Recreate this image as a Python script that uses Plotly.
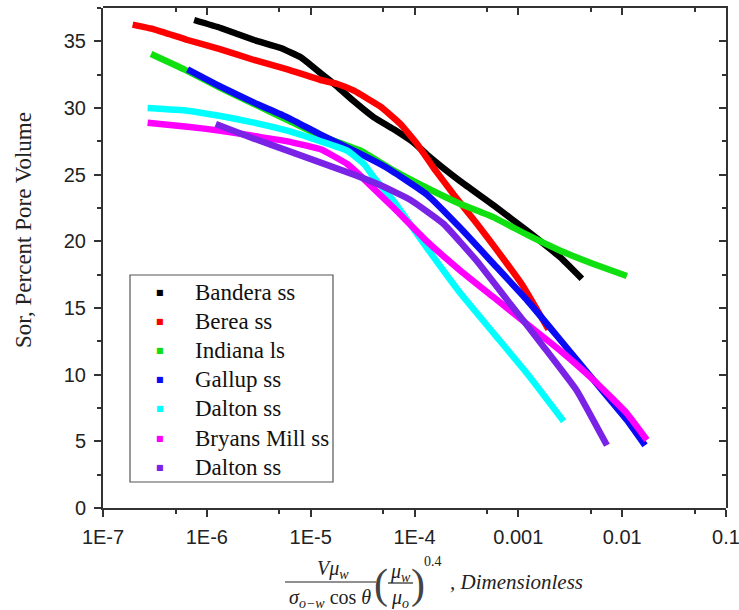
import plotly.graph_objects as go

# Residual oil saturation vs. capillary number for several rocks
bandera_x = [7.55e-7, 1.36e-6, 2.85e-6, 5.15e-6, 8.02e-6, 1.25e-5, 1.81e-5, 2.61e-5,
             4.06e-5, 6.32e-5, 9.84e-5, 1.32e-4, 2.77e-4, 5.79e-4, 1.21e-3, 2.54e-3, 4.09e-3]
bandera_y = [36.6, 36.0, 35.1, 34.5, 33.8, 32.6, 31.6, 30.5,
             29.3, 28.4, 27.4, 26.5, 24.5, 22.7, 20.8, 18.8, 17.2]

berea_x = [1.93e-7, 3.11e-7, 6.52e-7, 1.36e-6, 2.85e-6, 5.97e-6, 1.25e-5, 1.81e-5, 2.61e-5,
           4.71e-5, 7.33e-5, 1.06e-4, 1.53e-4, 2.39e-4, 4.01e-4, 6.71e-4, 1.12e-3, 1.95e-3]
berea_y = [36.25, 35.9, 35.1, 34.4, 33.6, 32.9, 32.1, 31.8, 31.3,
           30.1, 28.8, 27.3, 25.5, 23.5, 21.3, 19.0, 16.6, 13.4]

indiana_x = [2.90e-7, 6.05e-7, 1.36e-6, 2.85e-6, 5.97e-6, 1.25e-5, 3.03e-5, 6.32e-5,
             1.32e-4, 2.77e-4, 5.79e-4, 1.21e-3, 2.54e-3, 5.30e-3, 1.11e-2]
indiana_y = [34.05, 32.9, 31.5, 30.3, 29.1, 27.9, 26.8, 25.3,
             24.0, 22.8, 21.8, 20.5, 19.3, 18.3, 17.4]

gallup_x = [6.52e-7, 1.36e-6, 2.85e-6, 5.97e-6, 1.25e-5, 2.61e-5, 5.46e-5, 1.32e-4,
            2.77e-4, 5.79e-4, 1.21e-3, 2.54e-3, 5.30e-3, 1.11e-2, 1.66e-2]
gallup_y = [32.9, 31.6, 30.4, 29.3, 28.0, 26.8, 25.5, 23.5,
            21.0, 18.3, 15.6, 12.6, 9.6, 6.6, 4.7]

dalton1_x = [2.69e-7, 6.52e-7, 1.36e-6, 2.85e-6, 5.97e-6, 1.25e-5, 2.25e-5, 3.26e-5,
             4.06e-5, 6.32e-5, 1.32e-4, 2.77e-4, 5.79e-4, 1.21e-3, 2.73e-3]
dalton1_y = [30.0, 29.8, 29.4, 28.9, 28.3, 27.5, 26.8, 25.8,
             24.8, 23.0, 19.5, 16.1, 13.1, 10.1, 6.5]

bryans_x = [2.69e-7, 6.52e-7, 1.36e-6, 2.85e-6, 5.97e-6, 1.25e-5, 2.25e-5, 3.03e-5,
            6.32e-5, 1.32e-4, 2.77e-4, 5.79e-4, 1.21e-3, 2.54e-3, 5.30e-3, 1.11e-2, 1.73e-2]
bryans_y = [28.9, 28.6, 28.3, 27.9, 27.5, 26.9, 25.8, 24.9,
            22.5, 20.0, 17.8, 15.8, 13.8, 11.8, 9.6, 7.1, 5.1]

dalton2_x = [1.22e-6, 2.85e-6, 5.97e-6, 1.25e-5, 2.61e-5, 4.71e-5, 9.16e-5, 1.91e-4,
             4.01e-4, 8.38e-4, 1.75e-3, 3.66e-3, 7.13e-3]
dalton2_y = [28.8, 27.7, 26.8, 25.9, 25.0, 24.2, 23.1, 21.3,
             18.5, 15.3, 12.1, 8.8, 4.7]

series_names = ["Bandera ss", "Berea ss", "Indiana ls", "Gallup ss",
                "Dalton ss", "Bryans Mill ss", "Dalton ss"]
series_x = [bandera_x, berea_x, indiana_x, gallup_x, dalton1_x, bryans_x, dalton2_x]
series_y = [bandera_y, berea_y, indiana_y, gallup_y, dalton1_y, bryans_y, dalton2_y]
series_colors = ["#000000", "#ff0000", "#10e010", "#0a0af5", "#00ffff", "#ff00ff", "#7a22e6"]

x_tickvals = [1e-7, 1e-6, 1e-5, 1e-4, 1e-3, 1e-2, 1e-1]
x_ticktext = ["1E-7", "1E-6", "1E-5", "1E-4", "0.001", "0.01", "0.1"]
x_minorvals = [5e-7, 5e-6, 5e-5, 5e-4, 5e-3, 5e-2]
y_tickvals = [0, 5, 10, 15, 20, 25, 30, 35]

fig = go.Figure()

for name, xs, ys, c in zip(series_names, series_x, series_y, series_colors):
    fig.add_trace(go.Scatter(
        x=xs, y=ys, mode="lines", name=name,
        line=dict(color=c, width=6.5, shape="spline", smoothing=0.35),
        showlegend=False, hoverinfo="skip"))

# second subplot on the same area: carries the top / right frame with inward ticks
fig.add_trace(go.Scatter(x=[], y=[], xaxis="x2", yaxis="y2",
                         showlegend=False, hoverinfo="skip"))

axis_col = "#333333"
tick_font = dict(family="Liberation Sans, Arial, sans-serif", size=20, color="#222222")
common = dict(showgrid=False, zeroline=False, showline=True, linewidth=2,
              linecolor=axis_col, tickwidth=1.5, tickcolor=axis_col, ticklen=7,
              automargin=False)

fig.update_layout(
    template="none",
    width=739, height=610,
    margin=dict(l=103, r=13, t=8, b=102, autoexpand=False),
    paper_bgcolor="white", plot_bgcolor="rgba(0,0,0,0)",
    showlegend=False,
    xaxis=dict(
        type="log", range=[-7, -1], domain=[0, 1], anchor="y",
        tickvals=x_tickvals, ticktext=x_ticktext, ticks="outside",
        minor=dict(tickvals=x_minorvals, ticks="outside", ticklen=4,
                   tickwidth=1.5, tickcolor=axis_col),
        tickfont=tick_font, ticklabelstandoff=3, ticklabeloverflow="allow",
        **common),
    yaxis=dict(
        range=[0, 37.5], domain=[0, 1], anchor="x",
        tickvals=y_tickvals, ticks="outside",
        minor=dict(dtick=2.5, tick0=0, ticks="outside", ticklen=4,
                   tickwidth=1.5, tickcolor=axis_col),
        tickfont=tick_font, ticklabelstandoff=4,
        **common),
    xaxis2=dict(
        type="log", range=[-7, -1], domain=[0, 1], anchor="y2", side="top",
        tickvals=x_tickvals, showticklabels=False, ticks="inside",
        minor=dict(tickvals=x_minorvals, ticks="inside", ticklen=4,
                   tickwidth=1.5, tickcolor=axis_col),
        **common),
    yaxis2=dict(
        range=[0, 37.5], domain=[0, 1], anchor="x2", side="right",
        tickvals=y_tickvals, showticklabels=False, ticks="inside",
        minor=dict(dtick=2.5, tick0=0, ticks="inside", ticklen=4,
                   tickwidth=1.5, tickcolor=axis_col),
        **common),
)

serif = "Liberation Serif, Times New Roman, serif"
text_col = "#222222"
math_font = dict(family=serif, size=20, color=text_col)


def px_x(px):
    return (px - 103) / 623


def px_y(py):
    return (508 - py) / 500


annots = [
    # y-axis title
    dict(text="Sor, Percent Pore Volume", x=px_x(24), y=px_y(230), textangle=-90,
         font=dict(family=serif, size=23, color=text_col)),
    # x-axis title, set as a small formula
    dict(text="<i>Vμ<sub>w</sub></i>", x=px_x(333), y=px_y(569), font=math_font),
    dict(text="<i>σ<sub>o−w</sub></i> cos <i>θ</i>", x=px_x(330), y=px_y(598), font=math_font),
    dict(text="(", x=px_x(381), y=px_y(584), font=dict(family=serif, size=42, color="#444444")),
    dict(text="<i>μ<sub>w</sub></i>", x=px_x(400), y=px_y(572), font=math_font),
    dict(text="<i>μ<sub>o</sub></i>", x=px_x(400), y=px_y(598), font=math_font),
    dict(text=")", x=px_x(418), y=px_y(584), font=dict(family=serif, size=42, color="#444444")),
    dict(text="0.4", x=px_x(433), y=px_y(561), font=dict(family=serif, size=14, color=text_col)),
    dict(text="<i>, Dimensionless</i>", x=px_x(448), y=px_y(582), xanchor="left",
         font=dict(family=serif, size=21, color=text_col)),
]

# legend: boxed list of small coloured squares with sample names
legend_top, legend_step = 292, 29.2
for i, (name, c) in enumerate(zip(series_names, series_colors)):
    yy = px_y(legend_top + i * legend_step)
    annots.append(dict(text="■", x=px_x(160), y=yy,
                       font=dict(family="DejaVu Sans", size=8, color=c)))
    annots.append(dict(text=name, x=px_x(193), y=yy, xanchor="left",
                       font=dict(family=serif, size=23, color="#111111")))

for a in annots:
    a.setdefault("xanchor", "center")
    fig.add_annotation(xref="paper", yref="paper", yanchor="middle",
                       showarrow=False, **a)

fig.add_shape(type="rect", xref="paper", yref="paper",
              x0=px_x(130), x1=px_x(333), y0=px_y(482), y1=px_y(275),
              line=dict(color="#555555", width=1.2), fillcolor="rgba(0,0,0,0)")

# fraction bars of the x-axis formula
fig.add_shape(type="line", xref="paper", yref="paper",
              x0=px_x(285), x1=px_x(376), y0=px_y(582), y1=px_y(582),
              line=dict(color=text_col, width=1.2))
fig.add_shape(type="line", xref="paper", yref="paper",
              x0=px_x(388), x1=px_x(413), y0=px_y(583), y1=px_y(583),
              line=dict(color=text_col, width=1.2))

fig.write_html("out.html")
